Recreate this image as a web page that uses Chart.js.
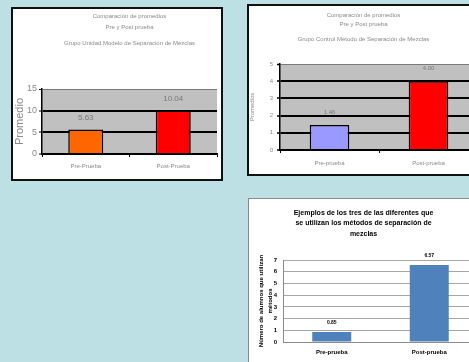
<!DOCTYPE html>
<html>
<head>
<meta charset="utf-8">
<script src="https://cdn.jsdelivr.net/npm/chart.js@4.4.0/dist/chart.umd.min.js"></script>
<style>
  html, body { margin: 0; padding: 0; }
  body { width: 469px; height: 362px; overflow: hidden; position: relative; background: #bce0e3; }
  .caja { position: absolute; background: #fff; }
  #caja1 { left: 11px; top: 7px; border: 2px solid #111; }
  #caja2 { left: 247px; top: 4px; border: 2px solid #111; }
  #caja3 { left: 248px; top: 198px; border: 1px solid #8c8c8c; }
  canvas { display: block; }
</style>
</head>
<body>
<div class="caja" id="caja1"><canvas id="grafico1" width="208" height="170"></canvas></div>
<div class="caja" id="caja2"><canvas id="grafico2" width="238" height="168"></canvas></div>
<div class="caja" id="caja3"><canvas id="grafico3" width="234" height="170"></canvas></div>
<script>
// Datos de los tres gráficos
const categorias1 = ['Pre-Prueba', 'Post-Prueba'];
const promedios1 = [5.63, 10.04];
const etiquetas1 = ['5.63', '10.04'];
const ejeY1 = { min: 0, max: 15, paso: 5 };

const categorias2 = ['Pre-prueba', 'Post-prueba'];
const promedios2 = [1.46, 4.00];
const etiquetas2 = ['1.46', '4.00'];
const ejeY2 = { min: 0, max: 5, paso: 1 };

const categorias3 = ['Pre-prueba', 'Post-prueba'];
const valores3 = [0.85, 6.57];
const etiquetas3 = ['0.85', '6.57'];
const ejeY3 = { min: 0, max: 7, paso: 1 };

const FUENTE = "'Liberation Sans', Arial, sans-serif";
const GRIS = '#8a8a8a';

// fondo del área de trazado
const fondoArea = {
    id: 'fondoArea',
    beforeDraw(chart, args, opts) {
        if (!opts.color) return;
        const a = chart.chartArea;
        chart.ctx.save();
        chart.ctx.fillStyle = opts.color;
        chart.ctx.fillRect(a.left, a.top, a.right - a.left, a.bottom - a.top);
        chart.ctx.restore();
    }
};

// etiquetas de valor sobre cada barra
const etiquetasBarra = {
    id: 'etiquetasBarra',
    afterDatasetsDraw(chart, args, opts) {
        const ctx = chart.ctx;
        const meta = chart.getDatasetMeta(0);
        ctx.save();
        ctx.fillStyle = opts.color;
        ctx.font = opts.font;
        ctx.textAlign = 'center';
        ctx.textBaseline = 'middle';
        meta.data.forEach((barra, i) => {
            ctx.fillText(opts.textos[i], barra.x, barra.y - opts.distancia);
        });
        ctx.restore();
    }
};

function lineaGris(valorTope, gris, negro) {
    return {
        color: (c) => (c.tick && c.tick.value === valorTope ? gris : negro),
        lineWidth: (c) => (c.tick && c.tick.value === valorTope ? 1 : 2)
    };
}

// Gráfico 1
const g1 = lineaGris(ejeY1.max, '#7a7a7a', '#000');
new Chart(document.getElementById('grafico1'), {
    type: 'bar',
    data: {
        labels: categorias1,
        datasets: [{
            data: promedios1,
            backgroundColor: ['#ff6600', '#ff0000'],
            borderColor: '#000',
            borderWidth: 1.5,
            barPercentage: 0.4,
            categoryPercentage: 1
        }]
    },
    options: {
        responsive: false,
        animation: false,
        layout: { padding: { left: 0, right: 4, top: 0, bottom: 0 } },
        plugins: {
            legend: { display: false },
            tooltip: { enabled: false },
            title: {
                display: true, fullSize: false,
                text: ['Comparación de promedios', 'Pre y Post prueba'],
                color: GRIS,
                font: { family: FUENTE, size: 6, weight: 'normal', lineHeight: '11px' },
                padding: { top: 1.5, bottom: 0 }
            },
            subtitle: {
                display: true, fullSize: false,
                text: 'Grupo Unidad Modelo de Separación de Mezclas',
                color: GRIS,
                font: { family: FUENTE, size: 6, weight: 'normal', lineHeight: '8px' },
                padding: { top: 6.5, bottom: 42 }
            },
            fondoArea: { color: '#c0c0c0' },
            etiquetasBarra: { textos: etiquetas1, color: '#7a7a7a', font: '8px ' + FUENTE, distancia: 12 }
        },
        scales: {
            x: {
                afterFit: (s) => { s.height = 25; },
                grid: { drawOnChartArea: false, tickLength: 3, color: '#000', lineWidth: 1 },
                border: { color: '#000', width: 1.5 },
                ticks: { color: GRIS, font: { family: FUENTE, size: 6 }, padding: 6 }
            },
            y: {
                min: ejeY1.min, max: ejeY1.max,
                afterFit: (s) => { s.width = 29; },
                grid: { color: g1.color, lineWidth: g1.lineWidth, tickLength: 3, tickColor: '#000', tickWidth: 1 },
                border: { color: '#000', width: 1.5 },
                ticks: { stepSize: ejeY1.paso, color: GRIS, font: { family: FUENTE, size: 9 }, padding: 2 },
                title: { display: true, text: 'Promedio', color: GRIS, font: { family: FUENTE, size: 11 }, padding: { top: 0, bottom: 0 } }
            }
        }
    },
    plugins: [fondoArea, etiquetasBarra]
});

// Gráfico 2
const g2 = lineaGris(ejeY2.max, '#7a7a7a', '#000');
new Chart(document.getElementById('grafico2'), {
    type: 'bar',
    data: {
        labels: categorias2,
        datasets: [{
            data: promedios2,
            backgroundColor: ['#9999ff', '#ff0000'],
            borderColor: '#000',
            borderWidth: 1.5,
            barPercentage: 0.4,
            categoryPercentage: 1
        }]
    },
    options: {
        responsive: false,
        animation: false,
        layout: { padding: { left: 0, right: 9, top: 0, bottom: 0 } },
        plugins: {
            legend: { display: false },
            tooltip: { enabled: false },
            title: {
                display: true,
                text: ['Comparación de promedios', 'Pre y Post prueba'],
                color: GRIS,
                font: { family: FUENTE, size: 6, weight: 'normal', lineHeight: '9px' },
                padding: { top: 4.5, bottom: 0 }
            },
            subtitle: {
                display: true,
                text: 'Grupo Control Método de Separación de Mezclas',
                color: GRIS,
                font: { family: FUENTE, size: 6, weight: 'normal', lineHeight: '8px' },
                padding: { top: 6.5, bottom: 21 }
            },
            fondoArea: { color: '#c0c0c0' },
            etiquetasBarra: { textos: etiquetas2, color: '#7a7a7a', font: '6px ' + FUENTE, distancia: 13 }
        },
        scales: {
            x: {
                afterFit: (s) => { s.height = 24; },
                grid: { drawOnChartArea: false, tickLength: 3, color: '#000', lineWidth: 1 },
                border: { color: '#000', width: 1.5 },
                ticks: { color: GRIS, font: { family: FUENTE, size: 6 }, padding: 7 }
            },
            y: {
                min: ejeY2.min, max: ejeY2.max,
                afterFit: (s) => { s.width = 31; },
                grid: { color: g2.color, lineWidth: g2.lineWidth, tickLength: 3, tickColor: '#000', tickWidth: 1.5 },
                border: { color: '#000', width: 1.5 },
                ticks: { stepSize: ejeY2.paso, color: GRIS, font: { family: FUENTE, size: 6 }, padding: 4 },
                title: { display: true, text: 'Promedios', color: GRIS, font: { family: FUENTE, size: 6 }, padding: { top: 0, bottom: 0 } }
            }
        }
    },
    plugins: [fondoArea, etiquetasBarra]
});

// Gráfico 3
new Chart(document.getElementById('grafico3'), {
    type: 'bar',
    data: {
        labels: categorias3,
        datasets: [{
            data: valores3,
            backgroundColor: '#4f81bd',
            borderWidth: 0,
            barPercentage: 0.4,
            categoryPercentage: 1
        }]
    },
    options: {
        responsive: false,
        animation: false,
        layout: { padding: { left: 0, right: 5, top: 0, bottom: 0 } },
        plugins: {
            legend: { display: false },
            tooltip: { enabled: false },
            title: {
                display: true,
                text: ['Ejemplos de los tres de las diferentes que', 'se utilizan los métodos de separación de', 'mezclas'],
                color: '#000',
                font: { family: FUENTE, size: 7, weight: 'bold', lineHeight: '10.5px' },
                padding: { top: 8.75, bottom: 20.75 }
            },
            fondoArea: { color: '#ffffff' },
            etiquetasBarra: { textos: etiquetas3, color: '#000', font: 'bold 5px ' + FUENTE, distancia: 9 }
        },
        scales: {
            x: {
                afterFit: (s) => { s.height = 27; },
                grid: { display: false, drawTicks: false },
                border: { color: '#8c8c8c', width: 1 },
                ticks: { color: '#000', font: { family: FUENTE, size: 6, weight: 'bold' }, padding: 7 }
            },
            y: {
                min: ejeY3.min, max: ejeY3.max,
                afterFit: (s) => { s.width = 34; },
                grid: { color: '#a6a6a6', lineWidth: 1, drawTicks: false },
                border: { color: '#8c8c8c', width: 1 },
                ticks: { stepSize: ejeY3.paso, color: '#000', font: { family: FUENTE, size: 6, weight: 'bold' }, padding: 6 },
                title: {
                    display: true,
                    text: ['Número de alumnos que utilizan', 'métodos'],
                    color: '#000',
                    font: { family: FUENTE, size: 6, weight: 'bold', lineHeight: '9px' },
                    padding: { top: 7.5, bottom: 0 }
                }
            }
        }
    },
    plugins: [fondoArea, etiquetasBarra]
});
</script>
</body>
</html>
